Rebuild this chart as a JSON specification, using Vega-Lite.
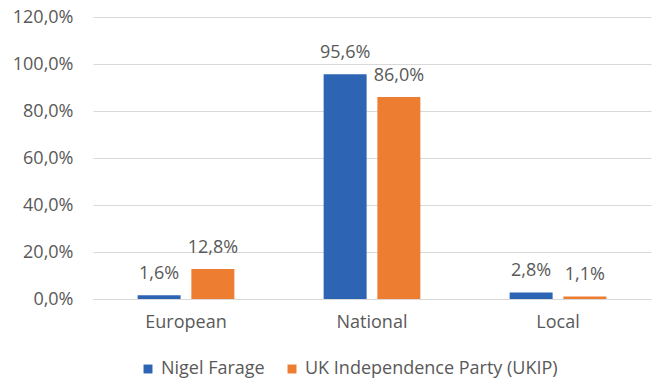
{
  "$schema": "https://vega.github.io/schema/vega-lite/v6.json",
  "autosize": "none",
  "width": 558,
  "height": 282,
  "padding": {"left": 93, "top": 17, "right": 6, "bottom": 83},
  "background": "white",
  "config": {
    "locale": {"number": {"decimal": ",", "thousands": ".", "grouping": [3], "currency": ["", " €"]}},
    "view": {"stroke": null},
    "font": "Open Sans",
    "text": {"font": "Open Sans"}
  },
  "data": {
    "values": [
      {"level": "European", "series": "Nigel Farage", "value": 0.016},
      {"level": "European", "series": "UK Independence Party (UKIP)", "value": 0.128},
      {"level": "National", "series": "Nigel Farage", "value": 0.956},
      {"level": "National", "series": "UK Independence Party (UKIP)", "value": 0.860},
      {"level": "Local", "series": "Nigel Farage", "value": 0.028},
      {"level": "Local", "series": "UK Independence Party (UKIP)", "value": 0.011}
    ]
  },
  "encoding": {
    "x": {
      "field": "level", "type": "nominal", "sort": ["European", "National", "Local"],
      "scale": {"paddingInner": 0.48, "paddingOuter": 0.24},
      "axis": {"title": null, "labelAngle": 0, "ticks": false, "domainColor": "#D9D9D9", "labelColor": "#595959", "labelFontSize": 18, "labelPadding": 14, "labelFont": "Open Sans"}
    },
    "xOffset": {
      "field": "series", "type": "nominal",
      "scale": {"paddingInner": 0.2, "paddingOuter": 0}
    },
    "y": {
      "field": "value", "type": "quantitative",
      "scale": {"domain": [0, 1.2], "nice": false},
      "axis": {"title": null, "format": ".1%", "values": [0, 0.2, 0.4, 0.6, 0.8, 1.0, 1.2], "domain": false, "ticks": false, "gridColor": "#D9D9D9", "labelColor": "#595959", "labelFontSize": 18, "labelPadding": 20, "labelFont": "Open Sans"}
    }
  },
  "layer": [
    {
      "mark": {"type": "bar"},
      "encoding": {
        "color": {
          "field": "series", "type": "nominal",
          "scale": {"domain": ["Nigel Farage", "UK Independence Party (UKIP)"], "range": ["#2E64B4", "#ED7D31"]},
          "legend": {"title": null, "orient": "none", "legendX": 46, "legendY": 343, "direction": "horizontal", "symbolType": "square", "symbolSize": 80, "labelFontSize": 18, "labelColor": "#595959", "labelFont": "Open Sans", "labelLimit": 400, "labelOffset": 4, "columnPadding": 18, "symbolStrokeWidth": 0}
        }
      }
    },
    {
      "mark": {"type": "text", "dy": -21, "fontSize": 18, "color": "#595959"},
      "encoding": {
        "text": {"field": "value", "type": "quantitative", "format": ".1%"}
      }
    }
  ]
}
